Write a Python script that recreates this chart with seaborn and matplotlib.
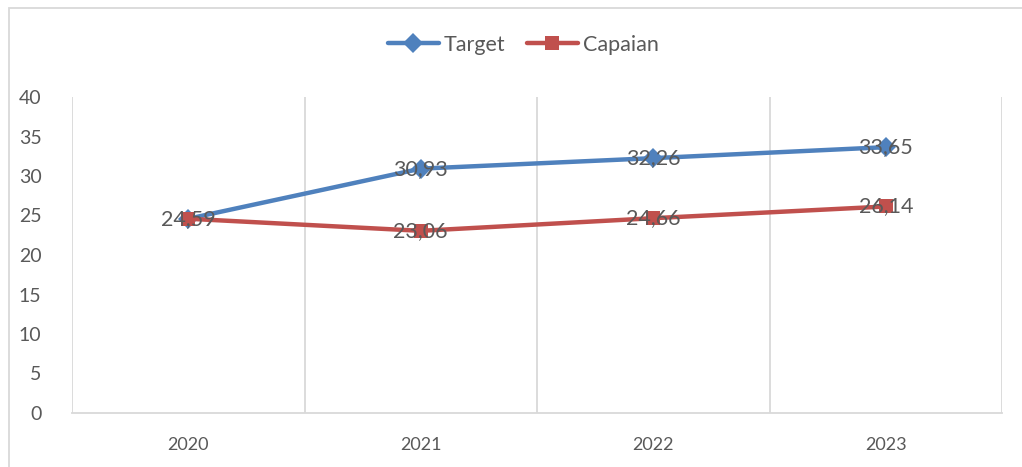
import numpy as np
import pandas as pd
import seaborn as sb
import matplotlib.pyplot as plt
from matplotlib.patches import Rectangle
from matplotlib.lines import Line2D

# Data
tahun = ["2020", "2021", "2022", "2023"]
target = [24.59, 30.93, 32.26, 33.65]
capaian = [24.59, 23.06, 24.66, 26.14]

series = ["Target", "Capaian"]
colors = {"Target": "#4F81BD", "Capaian": "#C0504D"}
markers = {"Target": "D", "Capaian": "s"}

df = pd.DataFrame({
    "tahun": tahun * 2,
    "x": list(range(len(tahun))) * 2,
    "nilai": target + capaian,
    "seri": ["Target"] * len(tahun) + ["Capaian"] * len(tahun),
})

sb.set_style("white")
plt.rcParams["font.family"] = ["Lato", "DejaVu Sans"]
txt_color = "#595959"
W, H = 1022, 467

fig = plt.figure(figsize=(W / 100, H / 100), dpi=100)
ax = fig.add_axes([72 / W, 1 - 413 / H, (1002 - 72) / W, (413 - 97) / H])

sb.lineplot(data=df, x="x", y="nilai", hue="seri", style="seri",
            palette=colors, markers=markers, dashes=False,
            linewidth=3.2, markersize=10, markeredgewidth=0,
            legend=False, ax=ax)

# data labels (label yang bertumpuk cukup digambar sekali)
for i in range(len(tahun)):
    vals = {target[i], capaian[i]}
    for v in vals:
        ax.text(i, v, f"{v:.2f}".replace(".", ","), ha="center", va="center",
                fontsize=15.5, color=txt_color)

ax.set_xlim(-0.5, len(tahun) - 0.5)
ax.set_ylim(0, 40)
ax.set_yticks(np.arange(0, 41, 5))
ax.set_xticks(range(len(tahun)))
ax.set_xticklabels(tahun)
ax.tick_params(axis="y", labelsize=14, labelcolor=txt_color, length=0, pad=22)
ax.tick_params(axis="x", labelsize=13, labelcolor=txt_color, length=0, pad=17)
for lbl in ax.get_yticklabels():
    lbl.set_horizontalalignment("right")
ax.set_xlabel("")
ax.set_ylabel("")

# vertical gridlines between categories
for xv in np.arange(-0.5, len(tahun), 1.0):
    ax.axvline(xv, color="#D9D9D9", linewidth=1.3, zorder=0)
for sp in ["top", "right", "left"]:
    ax.spines[sp].set_visible(False)
ax.spines["bottom"].set_color("#D9D9D9")
ax.spines["bottom"].set_linewidth(1.3)

# legend
handles = [Line2D([0], [0], color=colors[s], marker=markers[s], linewidth=3.2,
                  markersize=10, markeredgewidth=0) for s in series]
fig.legend(handles, series, loc="center", bbox_to_anchor=(523 / W, 1 - 45 / H),
           ncol=2, frameon=False, fontsize=15.5, labelcolor=txt_color,
           handlelength=2.4, handletextpad=0.2, columnspacing=1.0)

# chart area border (cropped)
fig.patches.append(Rectangle((9 / W, -0.1), 1.2, 1.1 - 8 / H, transform=fig.transFigure,
                             fill=False, edgecolor="#D9D9D9", linewidth=1.3))

fig.savefig("out.png", dpi=100)
